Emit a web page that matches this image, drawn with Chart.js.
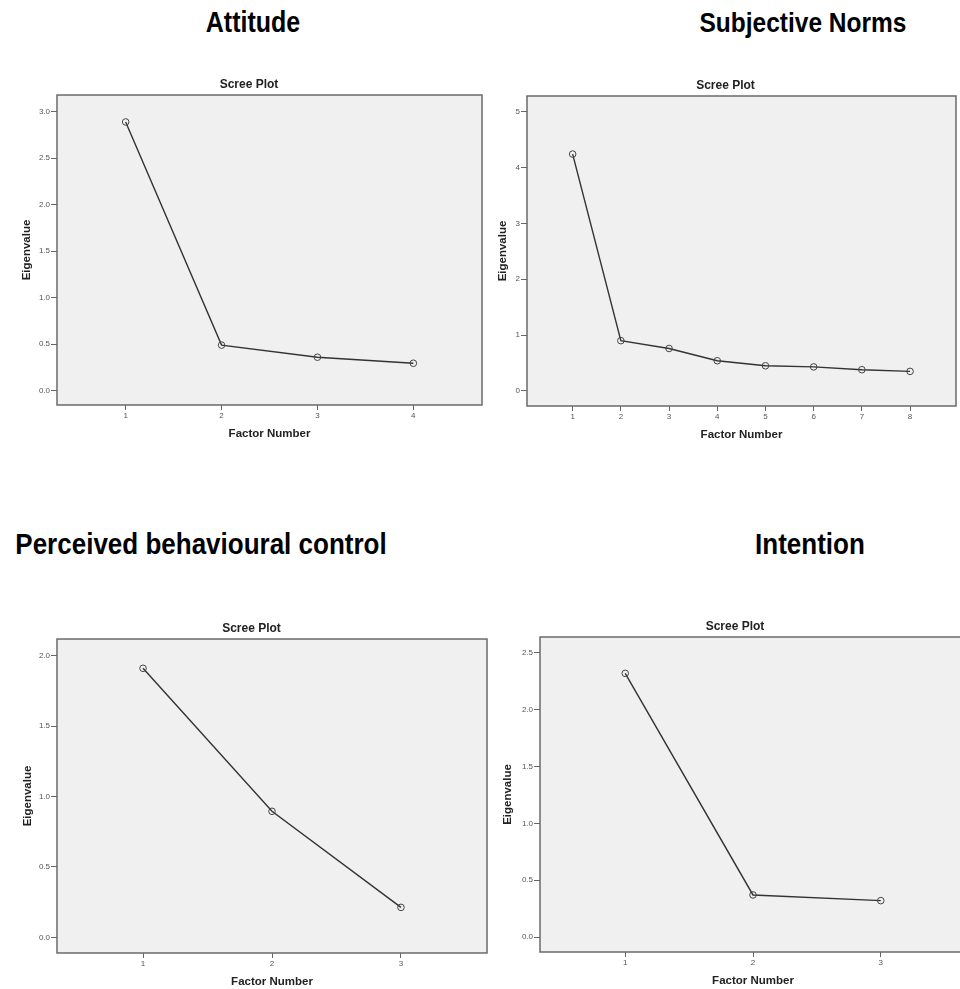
<!DOCTYPE html>
<html>
<head>
<meta charset="utf-8">
<title>Scree plots</title>
<script src="https://cdn.jsdelivr.net/npm/chart.js@4.4.0/dist/chart.umd.min.js"></script>
<style>
  html, body { margin: 0; padding: 0; background: #fff; width: 960px; height: 989px; overflow: hidden; }
  body { position: relative; font-family: "Liberation Sans", Arial, sans-serif; }
  .heading { position: absolute; width: 420px; text-align: center; font-weight: bold; color: #000;
             white-space: nowrap; line-height: 25px; transform: scaleY(1.15); }
  canvas { position: absolute; }
</style>
</head>
<body>
<div class="heading" style="left:43px; top:10px; font-size:25px;">Attitude</div>
<div class="heading" style="left:593px; top:10px; font-size:24.5px;">Subjective Norms</div>
<div class="heading" style="left:-9px; top:532px; font-size:26px;">Perceived behavioural control</div>
<div class="heading" style="left:600px; top:532px; font-size:26px;">Intention</div>

<script>
// Factor numbers and eigenvalues
const attitudeFactors = [1, 2, 3, 4];
const attitudeEigen = [2.89, 0.49, 0.36, 0.295];
const attitudeYTicks = [0, 0.5, 1, 1.5, 2, 2.5, 3];

const normsFactors = [1, 2, 3, 4, 5, 6, 7, 8];
const normsEigen = [4.24, 0.9, 0.76, 0.54, 0.45, 0.43, 0.38, 0.35];
const normsYTicks = [0, 1, 2, 3, 4, 5];

const controlFactors = [1, 2, 3];
const controlEigen = [1.91, 0.895, 0.213];
const controlYTicks = [0, 0.5, 1, 1.5, 2];

const intentionFactors = [1, 2, 3];
const intentionEigen = [2.32, 0.37, 0.32];
const intentionYTicks = [0, 0.5, 1, 1.5, 2, 2.5];

// Grey plot background plus the box around it, like SPSS
const framePlugin = {
  id: "frame",
  beforeDraw(chart) {
    const a = chart.chartArea;
    const ctx = chart.ctx;
    ctx.save();
    ctx.fillStyle = "#f0f0f0";
    ctx.fillRect(a.left, a.top, a.right - a.left, a.bottom - a.top);
    ctx.restore();
  },
  afterDraw(chart) {
    const a = chart.chartArea;
    const ctx = chart.ctx;
    ctx.save();
    ctx.strokeStyle = "#6a6a6a";
    ctx.lineWidth = 1.5;
    ctx.strokeRect(a.left, a.top, a.right - a.left, a.bottom - a.top);
    ctx.restore();
  },
};

function makeScree(cfg) {
  const canvas = document.createElement("canvas");
  canvas.width = cfg.box[2];
  canvas.height = cfg.box[3];
  canvas.style.left = cfg.box[0] + "px";
  canvas.style.top = cfg.box[1] + "px";
  document.body.appendChild(canvas);

  new Chart(canvas.getContext("2d"), {
    type: "line",
    data: {
      datasets: [
        {
          data: cfg.factors.map((f, i) => ({ x: f, y: cfg.eigen[i] })),
          borderColor: "#333",
          borderWidth: 1.4,
          pointRadius: 3.3,
          pointBorderWidth: 1,
          pointBorderColor: "#444",
          pointBackgroundColor: "rgba(0,0,0,0)",
          tension: 0,
        },
      ],
    },
    options: {
      responsive: false,
      animation: false,
      layout: { padding: 0 },
      plugins: {
        legend: { display: false },
        tooltip: { enabled: false },
        title: {
          display: true,
          text: "Scree Plot",
          color: "#222",
          font: { family: "'Liberation Sans', Arial, sans-serif", size: 12, weight: "bold" },
          padding: { top: 2.8, bottom: 2.8 },
        },
      },
      scales: {
        x: {
          type: "linear",
          min: cfg.xRange[0],
          max: cfg.xRange[1],
          afterBuildTicks: (s) => { s.ticks = cfg.factors.map((v) => ({ value: v })); },
          afterFit: (s) => { s.height = 40; },
          grid: { display: true, drawOnChartArea: false, drawTicks: true, tickLength: 5, color: "#666" },
          border: { display: false },
          ticks: {
            color: "#555",
            padding: 1,
            font: { family: "'Liberation Sans', Arial, sans-serif", size: 8 },
          },
          title: {
            display: true,
            text: "Factor Number",
            color: "#222",
            font: { family: "'Liberation Sans', Arial, sans-serif", size: 11.5, weight: "bold" },
            padding: { top: 0, bottom: 4.1 },
          },
        },
        y: {
          type: "linear",
          min: cfg.yRange[0],
          max: cfg.yRange[1],
          afterBuildTicks: (s) => { s.ticks = cfg.yTicks.map((v) => ({ value: v })); },
          afterFit: (s) => { s.width = cfg.yWidth; },
          grid: { display: true, drawOnChartArea: false, drawTicks: true, tickLength: 6, color: "#666" },
          border: { display: false },
          ticks: {
            color: "#555",
            padding: 1,
            font: { family: "'Liberation Sans', Arial, sans-serif", size: 8 },
            callback: (v) => Number(v).toFixed(cfg.yDecimals),
          },
          title: {
            display: true,
            text: "Eigenvalue",
            color: "#222",
            font: { family: "'Liberation Sans', Arial, sans-serif", size: 11.5, weight: "bold" },
            padding: { top: cfg.yTitlePad, bottom: 0 },
          },
        },
        gap: {
          position: "right",
          display: cfg.gap > 0,
          grid: { display: false },
          ticks: { display: false },
          border: { display: false },
          afterFit: (s) => { s.width = cfg.gap; },
        },
      },
    },
    plugins: [framePlugin],
  });
}

makeScree({
  box: [0, 75, 498, 370], yWidth: 57, gap: 16, yTitlePad: 20.1,
  factors: attitudeFactors, eigen: attitudeEigen, yTicks: attitudeYTicks, yDecimals: 1,
  xRange: [0.284, 4.716], yRange: [-0.154, 3.18],
});
makeScree({
  box: [490, 76, 471, 370], yWidth: 37, gap: 2, yTitlePad: 6.4,
  factors: normsFactors, eigen: normsEigen, yTicks: normsYTicks, yDecimals: 0,
  xRange: [0.053, 8.953], yRange: [-0.27, 5.28],
});
makeScree({
  box: [0, 619, 503, 374], yWidth: 57, gap: 16, yTitlePad: 20.8,
  factors: controlFactors, eigen: controlEigen, yTicks: controlYTicks, yDecimals: 1,
  xRange: [0.333, 3.667], yRange: [-0.111, 2.118],
});
makeScree({
  box: [499, 617, 472, 375], yWidth: 41, gap: 0, yTitlePad: 2.4,
  factors: intentionFactors, eigen: intentionEigen, yTicks: intentionYTicks, yDecimals: 1,
  xRange: [0.333, 3.667], yRange: [-0.132, 2.64],
});
</script>
</body>
</html>
